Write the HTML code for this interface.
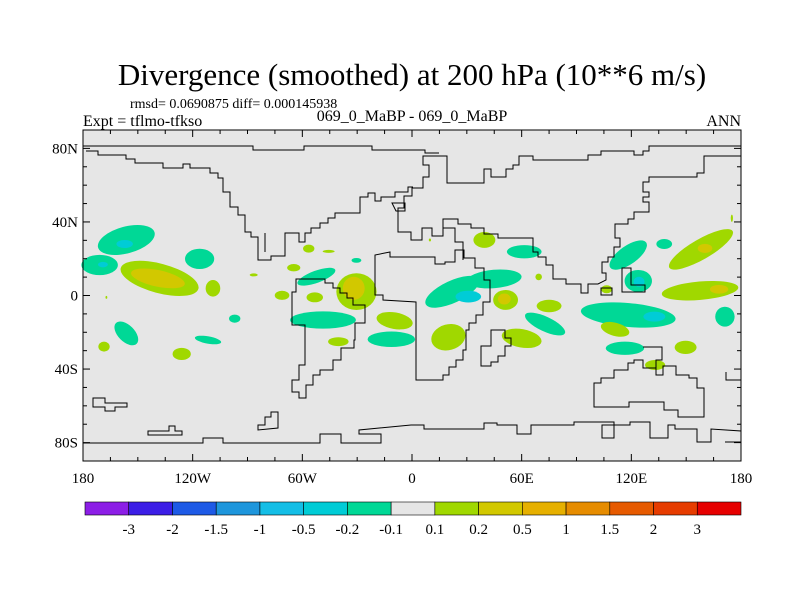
<!DOCTYPE html>
<html><head><meta charset="utf-8">
<style>
body{margin:0;background:#fff;}
svg{display:block;font-family:"Liberation Serif",serif;}
</style></head>
<body>
<svg id="chart" width="800" height="600" viewBox="0 0 800 600">
<text x="412" y="85" font-size="31" text-anchor="middle">Divergence (smoothed) at 200 hPa (10**6 m/s)</text>
<text x="130" y="108" font-size="14">rmsd= 0.0690875 diff= 0.000145938</text>
<text x="83" y="126" font-size="16">Expt = tflmo-tfkso</text>
<text x="412" y="121" font-size="16" text-anchor="middle">069_0_MaBP - 069_0_MaBP</text>
<text x="741" y="126" font-size="16" text-anchor="end">ANN</text>
<rect x="83" y="130" width="658" height="331" fill="#e6e6e6"/>
<g id="blobs"></g>
<g id="coast" fill="none" stroke="#000" stroke-width="1">
<path d="M83,146 L253,146 L253,150 L304,150 L304,146 L372,146 L372,150 L425,150 L425,153 L439,153"/>
<path d="M86,151 L98,151 L98,155 L126,155 L126,159 L135,159 L135,163 L163,163 L163,168 L183,168 L183,164 L190,164 L190,168 L210,168 L210,173 L218,173 L218,178 L223,178 L223,192 L230,192 L230,207 L238,207 L238,215 L245,215 L245,232 L251,232 L251,237 L258,237 L258,260 L271,260 L271,256 L285,256 L285,233 L299,233 L299,242 L305,242 L305,233 L311,233 L311,228 L320,228 L320,223 L328,223 L328,218 L335,218 L335,213 L360,213 L360,197 L368,197 L368,193 L375,193 L375,201 L381,201 L381,197 L395,197 L395,192 L408,192 L408,187 L413,187"/>
<path d="M265,233 L265,252"/>
<path d="M296,279 L325,279 L325,283 L333,283 L333,288 L340,288 L340,293 L347,293 L347,298 L353,298 L353,305 L365,305 L365,323 L355,323 L355,340 L354,340 L354,348 L341,348 L341,360 L333,360 L333,370 L320,370 L320,375 L313,375 L313,385 L306,385 L306,398 L299,398 L299,392 L292,392 L292,380 L299,380 L299,365 L305,365 L305,325 L292,325 L292,292 L296,292 Z"/>
<path d="M392,203 L405,203 L405,211 L396,211 Z"/>
<path d="M375,255 L375,295 L383,295 L383,300 L416,302 L416,380 L443,380 L443,375 L449,375 L449,367 L456,367 L456,360 L463,360 L463,350 L466,350 L466,330 L469,330 L469,323 L476,323 L476,315 L483,315 L483,302 L490,302 L490,280 L484,280 L484,268 L475,268 L475,258 L464,258 L464,250 L455,250 L455,262 L445,262 L445,264 L435,264 L435,257 L411,257 L390,257 L390,252 L375,255 Z"/>
<path d="M481,346 L491,346 L491,330 L505,330 L505,338 L511,338 L511,346 L505,346 L505,356 L498,356 L498,362 L491,362 L491,366 L481,366 Z"/>
<path d="M398,222 L398,208 L404,208 L404,196 L412,196 L412,188 L423,188 L423,177 L429,177 L429,165 L423,165 L423,156 L447,156 L447,183 L484,183 L484,169 L491,169 L491,177 L506,177 L506,169 L513,169 L513,165 L519,165 L519,156 L533,156 L533,160 L588,160 L588,155 L601,155 L601,151 L634,151 L634,155 L643,155 L643,151 L649,151 L649,146 L741,146"/>
<path d="M741,156 L704,156 L704,173 L697,173 L697,177 L649,177 L649,182 L643,182 L643,192 L649,192 L649,197 L643,197 L643,202 L649,202 L649,212 L634,212 L634,219 L628,219 L628,224 L615,224 L615,238 L620,238 L620,247 L614,247 L614,257 L608,257 L608,262 L602,262 L602,273 L606,273 L606,280 L598,284 L588,284 L588,293 L581,293 L581,284 L566,284 L566,279 L553,279 L553,265 L546,265 L546,257 L538,257 L538,252 L533,252 L533,238 L498,238 L498,234 L484,234 L484,228 L471,228 L471,224 L458,224 L458,219 L443,219 L443,236 L432,236 L432,228 L422,228 L422,240 L411,240 L411,232 L398,232 L398,222"/>
<path d="M443,219 L443,228 L455,228 L455,242 L463,242 L463,260"/>
<path d="M622,268 L631,268 L631,285 L645,285 L645,292 L622,292 Z"/>
<path d="M601,288 L612,288 L612,295 L601,295 Z"/>
<path d="M643,347 L662,347 L662,360 L656,360 L656,368 L643,368"/>
<path d="M594,383 L594,407 L629,407 L629,402 L664,402 L664,410 L678,410 L678,417 L704,417 L704,388 L697,388 L697,378 L689,378 L689,375 L676,375 L676,366 L663,366 L663,375 L656,375 L656,368 L643,368 L643,360 L634,360 L634,363 L628,363 L628,370 L614,370 L614,378 L601,378 L601,383 Z"/>
<path d="M83,443 L203,443 L203,438 L223,438 L223,443 L320,443 L320,434 L341,434 L341,443 L381,443 L381,434 L359,434 L359,430 L411,425 L424,425 L424,429 L484,429 L484,423 L497,423 L497,425 L517,425 L517,434 L531,434 L531,425 L574,425 L574,422 L614,422 L614,425 L602,425 L602,438 L614,438 L614,425 L630,425 L630,422 L650,422 L650,438 L668,438 L668,425 L675,425 L675,429 L697,429 L697,442 L711,442 L711,429 L741,431 L741,442 L725,442"/>
<path d="M93,398 L93,407 L105,407 L105,411 L115,411 L115,407 L127,407 L127,403 L105,403 L105,398 Z"/>
<path d="M148,431 L148,435 L182,435 L182,431 L175,431 L175,426 L169,426 L169,431 Z"/>
<path d="M258,430 L258,425 L265,425 L265,417 L271,417 L271,412 L278,412 L278,428 Z"/>
<path d="M726,372 L726,380 L741,380"/>
</g>
<rect x="83" y="130" width="658" height="331" fill="none" stroke="#000" stroke-width="1"/>
<g id="ticks" stroke="#000" stroke-width="1"></g>
<g id="labels" font-size="15"></g>
<g id="colorbar"></g>
</svg>
<script>
// contour blobs: lon, lat, half-width (deg), half-height (deg), rotation, value
const blobLon = [-156.3,-170.9,-138.1,-116.2,-108.9,-156.3,-168.5,-126,-111.6,-97,-56.5,-45.6,-30.4,-64.7,-86.6,-52.3,-71.1,-53.2,-30.4,-48.7,-9.5,-11.3,-40.3,-167.2,
 39.6,61.4,22,45,51.2,75,19.9,72.8,60,118.3,111.1,116.5,133,149.7,171.2,118.3,138,123.8,158.1,157.6,106.5,175,69.3,9.8,
 -157.2,-169.1,-139,-31.9,30.8,50.5,132.6,124.2,160.3,168];
const blobLat = [30.2,16.6,9.3,19.9,3.9,-20.6,-27.8,-31.8,-24.2,-12.6,25.5,24,19.1,15.1,11.2,10.2,0.1,-1,2.1,-13.3,-13.7,-23.8,-25.1,-1,
 30.2,23.8,2,9,-2.4,-5.7,-22.7,-15.5,-23.3,-10.6,-18.4,-28.7,-37.8,-28.2,-11.5,22,28,7.9,25.1,2.6,3.4,42,10.1,30.2,
 28,16.8,9.3,3.9,-0.6,-1.9,-11.5,7.5,25.6,3.4];
const blobRx = [16,10,22,8,4,8,3.1,5,7.3,3.1,3.1,3.3,2.7,3.6,2.2,11,4,4.5,11,18,10,13,5.6,0.5,
 6,9.5,16,15,6.8,6.8,9.5,12,11,26,8,10.5,5.5,6,5.3,12,4.3,7.5,20,21,3,0.6,1.8,0.6,
 4.5,2.7,15,6,7,3.5,6,3,4,5];
const blobRy = [7.3,5.5,8,5.5,4.5,4.5,2.7,3.3,2,2.2,2.2,0.8,1.3,2,0.8,3.3,2.5,2.7,10,4.7,4.5,4.2,2.4,0.8,
 4.3,3.6,6,5,5.4,3.4,7,4,5,6.5,3.6,3.6,2.7,3.6,5.4,5,2.7,6,5.5,5,2.2,2,1.8,0.8,
 2.2,1.5,4.5,6.3,3.2,3,2.7,2.7,2.5,2.4];
const blobRot = [-15,0,15,0,0,45,0,0,10,0,0,0,0,0,0,-20,0,0,0,0,10,0,0,0,
 0,0,-25,-5,0,0,-15,25,10,5,15,0,0,0,0,-35,0,0,-30,-5,0,0,0,0,
 0,0,12,0,0,0,0,0,0,0];
const blobValue = [-0.15,-0.15,0.15,-0.15,0.15,-0.15,0.15,0.15,-0.15,-0.15,0.15,0.15,-0.15,0.15,0.15,-0.15,0.15,0.15,0.15,-0.15,0.15,-0.15,0.15,0.15,
 0.15,-0.15,-0.15,-0.15,0.15,0.15,0.15,-0.15,0.15,-0.15,0.15,-0.15,0.15,0.15,-0.15,-0.15,-0.15,-0.15,0.15,0.15,0.15,0.15,0.15,0.15,
 -0.3,-0.3,0.3,0.3,-0.3,0.3,-0.3,-0.3,0.3,0.3];

const levels = [-3,-2,-1.5,-1,-0.5,-0.2,-0.1,0.1,0.2,0.5,1,1.5,2,3];
const levelLabels = ["-3","-2","-1.5","-1","-0.5","-0.2","-0.1","0.1","0.2","0.5","1","1.5","2","3"];
const levelColors = ['#8c1ee6','#3c1ee6','#1e5ae6','#1e96dc','#14bee6','#00ccd6','#00d896','#e6e6e6','#a0d800','#d2c800','#e6b000','#e68c00','#e65a00','#e63c00','#e60000'];
const lonTicks = [-180,-120,-60,0,60,120,180];
const lonLabels = ["180","120W","60W","0","60E","120E","180"];
const latTicks = [80,40,0,-40,-80];
const latLabels = ["80N","40N","0","40S","80S"];

const NS='http://www.w3.org/2000/svg';
const X0=83,X1=741,Y0=130,Y1=461;
function xs(lon){return X0+(lon+180)*(X1-X0)/360;}
function ys(lat){return Y0+(90-lat)*(Y1-Y0)/180;}
function colorOf(v){let i=0;for(const t of levels){if(v>=t)i++;}return levelColors[i];}
function mk(tag,attrs,parent){const e=document.createElementNS(NS,tag);for(const k in attrs)e.setAttribute(k,attrs[k]);parent.appendChild(e);return e;}

const bg=document.getElementById('blobs');
const order=blobValue.map((v,i)=>i).sort((a,b)=>Math.abs(blobValue[a])-Math.abs(blobValue[b]));
for(const i of order){
  const cx=xs(blobLon[i]),cy=ys(blobLat[i]);
  const rx=blobRx[i]*(X1-X0)/360, ry=blobRy[i]*(Y1-Y0)/180;
  const e=mk('ellipse',{cx:cx,cy:cy,rx:rx,ry:ry,fill:colorOf(blobValue[i]),transform:'rotate('+blobRot[i]+' '+cx+' '+cy+')'},bg);
  
  
}

const tg=document.getElementById('ticks');
for(let lon=-180;lon<=180;lon+=15){
  const x=xs(lon);const L=(lon%60===0)?7:4;
  mk('line',{x1:x,y1:Y0,x2:x,y2:Y0+L},tg);
  mk('line',{x1:x,y1:Y1,x2:x,y2:Y1-L},tg);
}
for(let lat=-90;lat<=90;lat+=10){
  const y=ys(lat);const L=(lat%40===0)?7:4;
  mk('line',{x1:X0,y1:y,x2:X0+L,y2:y},tg);
  mk('line',{x1:X1,y1:y,x2:X1-L,y2:y},tg);
}
const lg=document.getElementById('labels');
lonTicks.forEach((v,i)=>{
  const t=mk('text',{x:xs(v),y:483,'text-anchor':'middle'},lg);t.textContent=lonLabels[i];
  
  
});
latTicks.forEach((v,i)=>{
  const t=mk('text',{x:78,y:ys(v)+5,'text-anchor':'end'},lg);t.textContent=latLabels[i];
  
  
});
const cb=document.getElementById('colorbar');
const CX0=85,CX1=741,CY=502,CH=13,w=(CX1-CX0)/levelColors.length;
levelColors.forEach((c,i)=>{
  const r=mk('rect',{x:CX0+i*w,y:CY,width:w,height:CH,fill:c,stroke:'#000','stroke-width':0.6},cb);
  
  
});
levelLabels.forEach((s,i)=>{
  const t=mk('text',{x:CX0+(i+1)*w,y:534,'text-anchor':'middle','font-size':15},cb);t.textContent=s;
  
  
});
</script>
</body></html>
